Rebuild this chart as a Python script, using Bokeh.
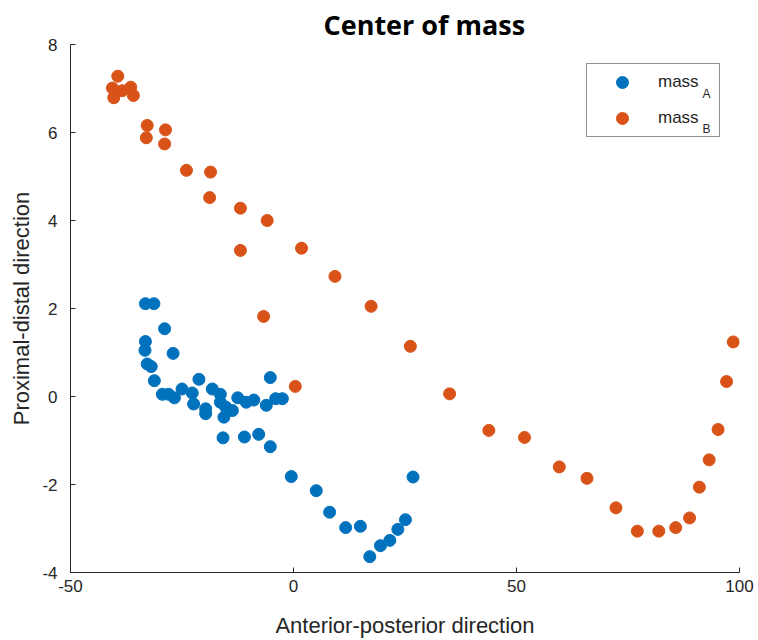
from bokeh.plotting import figure
from bokeh.models import Range1d, Legend, LegendItem, Label, FixedTicker
from bokeh.embed import file_html
from bokeh.resources import INLINE

# ---- data ----
mass_a_x = [-33.2, -31.3, -28.9, -33.2, -33.3, -27.0, -32.8, -31.9, -31.2, -21.2,
            -5.2, -29.4, -28.0, -26.7, -25.0, -22.7, -22.4, -19.7, -19.7, -18.2,
            -16.4, -16.4, -15.2, -15.6, -13.7, -12.5, -10.6, -8.9, -6.1, -4.0,
            -2.5, -15.8, -11.0, -7.8, -5.2, -0.5, 5.1, 8.1, 11.7, 15.0,
            17.1, 19.5, 21.6, 23.4, 25.1, 26.8]
mass_a_y = [2.11, 2.11, 1.54, 1.25, 1.05, 0.98, 0.74, 0.68, 0.36, 0.39,
            0.43, 0.05, 0.05, -0.03, 0.17, 0.08, -0.17, -0.28, -0.39, 0.17,
            0.05, -0.13, -0.24, -0.47, -0.32, -0.03, -0.13, -0.08, -0.20, -0.05,
            -0.05, -0.94, -0.92, -0.86, -1.14, -1.82, -2.14, -2.63, -2.98, -2.95,
            -3.64, -3.39, -3.27, -3.02, -2.80, -1.83]

mass_b_x = [-40.6, -40.3, -39.4, -38.4, -36.5, -35.9, -32.8, -33.0, -28.7, -28.9,
            -24.0, -18.6, -18.8, -11.9, -5.9, -11.9, 1.8, 9.3, 17.4, -6.7,
            26.2, 0.4, 35.0, 43.8, 51.8, 59.6, 65.8, 72.3, 77.1, 81.9,
            85.7, 88.8, 91.0, 93.2, 95.2, 97.1, 98.6]
mass_b_y = [7.01, 6.79, 7.28, 6.95, 7.03, 6.84, 6.16, 5.88, 6.06, 5.74,
            5.14, 5.10, 4.52, 4.28, 4.00, 3.32, 3.37, 2.73, 2.05, 1.82,
            1.14, 0.23, 0.06, -0.77, -0.93, -1.60, -1.86, -2.53, -3.06, -3.06,
            -2.98, -2.76, -2.06, -1.44, -0.75, 0.34, 1.24]

x_ticks = [-50, 0, 50, 100]
y_ticks = [-4, -2, 0, 2, 4, 6, 8]

title_text = "Center of mass"
x_label = "Anterior-posterior direction"
y_label = "Proximal-distal direction"
series_names = ["mass", "mass"]
series_subs = ["A", "B"]

BLUE = "#0072BD"
ORANGE = "#D95319"
AX = "#262626"

p = figure(width=758, height=640, output_backend="svg", toolbar_location=None,
           x_range=Range1d(-50, 100), y_range=Range1d(-4, 8),
           min_border_left=70, min_border_right=19, min_border_top=44, min_border_bottom=68)
p.frame_width = 669
p.frame_height = 528
p.outline_line_color = None
p.xgrid.visible = False
p.ygrid.visible = False
p.background_fill_color = "white"

p.title.text = title_text
p.title.text_font = "Open Sans"
p.title.text_font_size = "27px"
p.title.text_font_style = "bold"
p.title.text_color = "black"
p.title.align = "left"
p.title.offset = 253
p.title.standoff = 4

for ax, ticks in ((p.xaxis, x_ticks), (p.yaxis, y_ticks)):
    ax.ticker = FixedTicker(ticks=ticks)
    ax.major_label_overrides = {t: str(t) for t in ticks}
    ax.major_tick_in = 5
    ax.major_tick_out = 0
    ax.minor_tick_line_color = None
    ax.axis_line_color = AX
    ax.major_tick_line_color = AX
    ax.major_label_text_color = AX
    ax.major_label_text_font = "Liberation Sans"
    ax.major_label_text_font_size = "17px"
    ax.axis_label_text_font = "Liberation Sans"
    ax.axis_label_text_font_size = "22px"
    ax.axis_label_text_font_style = "normal"
    ax.axis_label_text_color = AX

p.xaxis.axis_label = x_label
p.yaxis.axis_label = y_label
p.xaxis.major_label_standoff = 7
p.yaxis.major_label_standoff = 13
p.xaxis.axis_label_standoff = 18
p.yaxis.axis_label_standoff = 5

ra = p.scatter(mass_a_x, mass_a_y, size=12, fill_color=BLUE, line_color=BLUE)
rb = p.scatter(mass_b_x, mass_b_y, size=12, fill_color=ORANGE, line_color=ORANGE)

legend = Legend(items=[LegendItem(label=series_names[0], renderers=[ra]),
                       LegendItem(label=series_names[1], renderers=[rb])],
                location="top_right")
legend.border_line_color = AX
legend.border_line_width = 1
legend.background_fill_alpha = 0
legend.label_text_font = "Liberation Sans"
legend.label_text_font_size = "17px"
legend.label_text_color = AX
legend.glyph_width = 64
legend.glyph_height = 30
legend.label_height = 30
legend.label_width = 58
legend.label_standoff = 4
legend.spacing = 6
legend.padding = 3
legend.margin = 19
p.add_layout(legend)

# subscripts of the legend labels (frame-relative screen units)
for sub, ypos in zip(series_subs, (479, 444)):
    p.add_layout(Label(x=632, y=ypos, x_units="screen", y_units="screen", text=sub,
                       text_font="Liberation Sans", text_font_size="12px",
                       text_color=AX, text_baseline="alphabetic", level="overlay"))

open("out.html", "w").write(file_html(p, INLINE))
